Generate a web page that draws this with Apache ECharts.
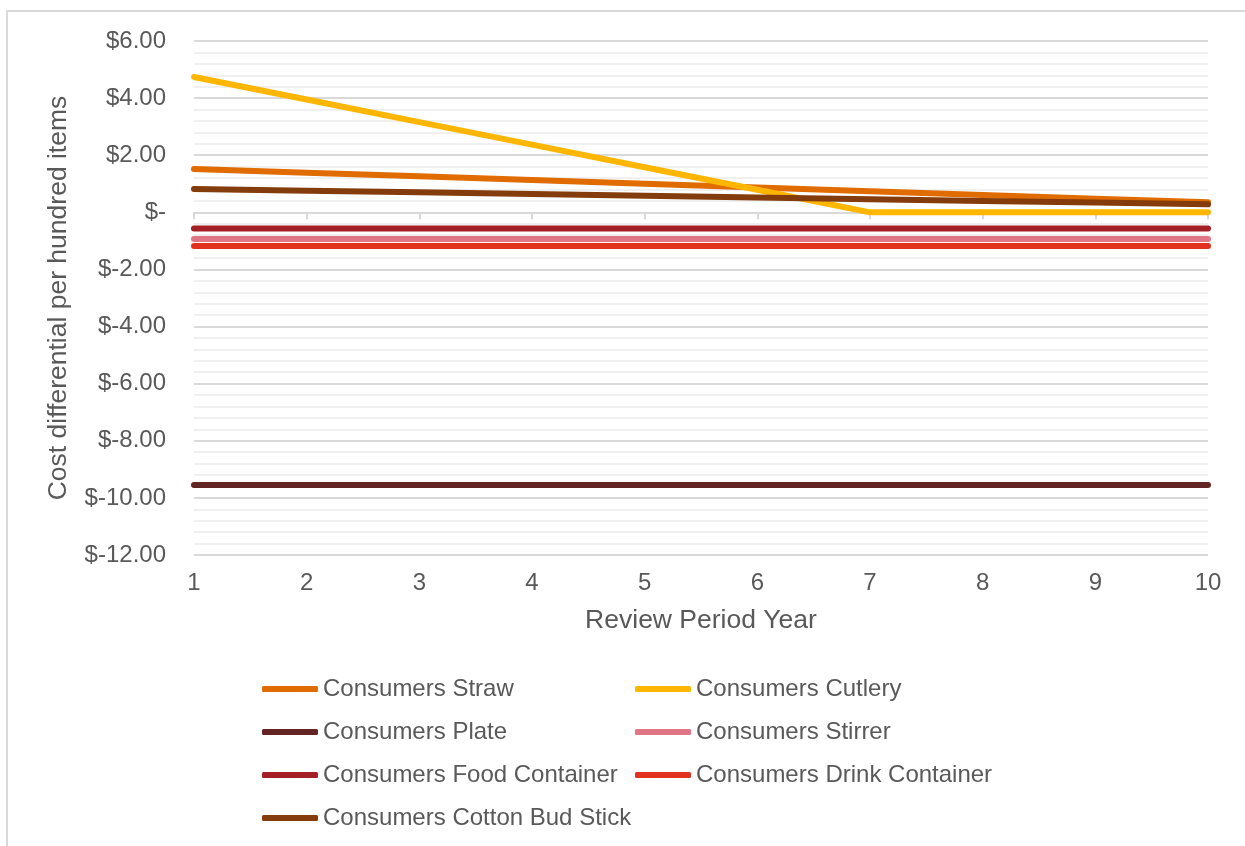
<!DOCTYPE html>
<html>
<head>
<meta charset="utf-8">
<script src="https://cdn.jsdelivr.net/npm/echarts@6/dist/echarts.min.js"></script>
<style>
  html, body { margin: 0; padding: 0; background: #fff; }
  #chart { width: 1245px; height: 846px; }
</style>
</head>
<body>
<div id="chart"></div>
<script>
// review period years
const years = ['1', '2', '3', '4', '5', '6', '7', '8', '9', '10']

// cost differential per hundred items ($)
const straw = [1.52, 1.39, 1.26, 1.13, 1.00, 0.87, 0.74, 0.61, 0.48, 0.35]
const cutlery = [4.74, 3.95, 3.16, 2.37, 1.58, 0.79, 0, 0, 0, 0]
const plate = [-9.55, -9.55, -9.55, -9.55, -9.55, -9.55, -9.55, -9.55, -9.55, -9.55]
const stirrer = [-0.93, -0.93, -0.93, -0.93, -0.93, -0.93, -0.93, -0.93, -0.93, -0.93]
const foodContainer = [-0.57, -0.57, -0.57, -0.57, -0.57, -0.57, -0.57, -0.57, -0.57, -0.57]
const drinkContainer = [-1.18, -1.18, -1.18, -1.18, -1.18, -1.18, -1.18, -1.18, -1.18, -1.18]
const cottonBud = [0.82, 0.76, 0.70, 0.64, 0.58, 0.52, 0.46, 0.40, 0.34, 0.28]

const seriesList = [
  { name: 'Consumers Straw', data: straw, color: '#E06C00' },
  { name: 'Consumers Cutlery', data: cutlery, color: '#FFB600' },
  { name: 'Consumers Plate', data: plate, color: '#632523' },
  { name: 'Consumers Stirrer', data: stirrer, color: '#E07585' },
  { name: 'Consumers Food Container', data: foodContainer, color: '#A52026' },
  { name: 'Consumers Drink Container', data: drinkContainer, color: '#E0321F' },
  { name: 'Consumers Cotton Bud Stick', data: cottonBud, color: '#843C0C' }
]

const font = '"Liberation Sans", Arial, sans-serif'
const textColor = '#595959'

const chart = echarts.init(document.getElementById('chart'))

// two legend columns like the excel layout
const legendBase = {
  orient: 'vertical',
  top: 677,
  padding: 0,
  icon: 'roundRect',
  itemWidth: 56,
  itemHeight: 6,
  itemGap: 19,
  textStyle: { fontFamily: font, fontSize: 24, color: textColor, lineHeight: 24 }
}

const option = {
  backgroundColor: '#fff',
  animation: false,
  graphic: [
    {
      type: 'rect',
      shape: { x: 7, y: 11, width: 1400, height: 1000 },
      style: { fill: 'none', stroke: '#d9d9d9', lineWidth: 2 },
      silent: true
    }
  ],
  grid: { left: 194, right: 37, top: 41, bottom: 291 },
  legend: [
    Object.assign({}, legendBase, {
      left: 262,
      data: ['Consumers Straw', 'Consumers Plate', 'Consumers Food Container', 'Consumers Cotton Bud Stick']
    }),
    Object.assign({}, legendBase, {
      left: 635,
      data: ['Consumers Cutlery', 'Consumers Stirrer', 'Consumers Drink Container']
    })
  ],
  xAxis: [
    {
      type: 'category',
      data: years,
      boundaryGap: false,
      position: 'bottom',
      name: 'Review Period Year',
      nameLocation: 'middle',
      nameGap: 52,
      nameTextStyle: { fontFamily: font, fontSize: 26.5, color: textColor },
      axisLine: { show: false, onZero: false },
      axisTick: { show: false },
      axisLabel: { fontFamily: font, fontSize: 24, color: textColor, margin: 16 }
    },
    {
      type: 'category',
      data: years,
      boundaryGap: false,
      position: 'bottom',
      axisLine: { show: true, onZero: true, lineStyle: { color: '#d9d9d9', width: 2 } },
      axisTick: { show: true, length: 7, lineStyle: { color: '#d9d9d9', width: 2 } },
      axisLabel: { show: false }
    }
  ],
  yAxis: {
    type: 'value',
    min: -12,
    max: 6,
    interval: 2,
    name: 'Cost differential per hundred items',
    nameLocation: 'middle',
    nameGap: 122,
    nameTextStyle: { fontFamily: font, fontSize: 26.5, color: textColor },
    axisLine: { show: false },
    axisTick: { show: false },
    axisLabel: {
      fontFamily: font,
      fontSize: 24,
      color: textColor,
      margin: 28,
      formatter: function (v) {
        return v === 0 ? '$-' : '$' + v.toFixed(2)
      }
    },
    splitLine: { show: true, lineStyle: { color: '#d9d9d9', width: 2 } },
    minorTick: { show: false, splitNumber: 5 },
    minorSplitLine: { show: true, lineStyle: { color: '#f0f0f0', width: 2 } }
  },
  series: seriesList.map(function (s) {
    return {
      name: s.name,
      type: 'line',
      data: s.data,
      xAxisIndex: 0,
      symbol: 'none',
      color: s.color,
      itemStyle: { color: s.color },
      lineStyle: { width: 6, color: s.color, cap: 'round' }
    }
  })
}

chart.setOption(option)
</script>
</body>
</html>
